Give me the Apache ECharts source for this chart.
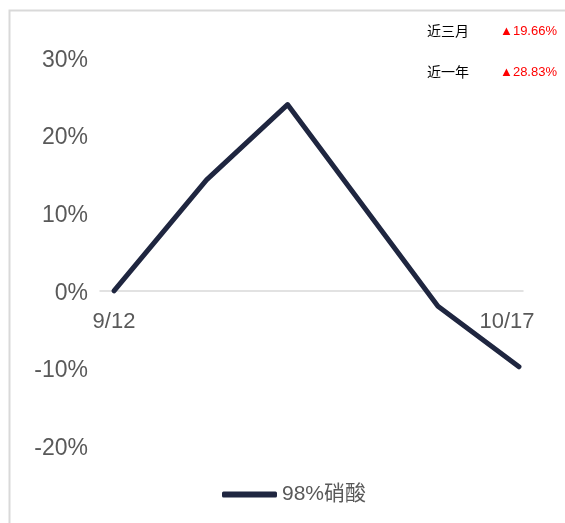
<!DOCTYPE html>
<html><head><meta charset="utf-8">
<script src="https://cdn.jsdelivr.net/npm/echarts@6/dist/echarts.min.js"></script>
<style>html,body{margin:0;padding:0;background:#fff}#c{width:565px;height:523px}</style>
</head><body><div id="c"></div>
<script>
var dates = ['2022-09-12', '2022-09-20', '2022-09-27', '2022-10-10', '2022-10-17'];
var values = [0, 14.3, 24.0, -2.0, -9.8];
var seriesName = '98%硝酸';
var yTicks = [-20, -10, 0, 10, 20, 30];
var xLabelDates = ['2022-09-12', '2022-10-17'];
var statLabels = ['近三月', '近一年'];
var statValues = ['▲19.66%', '▲28.83%'];

var DAY = 86400000;
function ts(s){ var p = s.split('-'); return Date.UTC(+p[0], +p[1]-1, +p[2]); }
var t0 = ts(dates[0]);
function dayOf(s){ return Math.round((ts(s) - t0) / DAY); }
function labelOf(d){ var dt = new Date(t0 + d * DAY); return (dt.getUTCMonth()+1) + '/' + dt.getUTCDate(); }
var FONT = '"Liberation Sans", "Noto Sans CJK SC", sans-serif';
var GRID_TOP = 58, GRID_BOTTOM = 77, H = 523;
var yMin = yTicks[0], yMax = yTicks[yTicks.length-1];
var plotH = H - GRID_TOP - GRID_BOTTOM;
var zeroOffset = -plotH * (0 - yMin) / (yMax - yMin);
var lastDay = dayOf(xLabelDates[xLabelDates.length-1]);
var chart = echarts.init(document.getElementById('c'));
chart.setOption({
  animation: false,
  grid: {left: 100, right: 42, top: GRID_TOP, bottom: GRID_BOTTOM},
  xAxis: {
    type: 'value',
    min: dayOf(dates[0]) - 1.21,
    max: dayOf(dates[dates.length-1]) + 0.35,
    offset: zeroOffset,
    axisLine: {onZero: false, lineStyle: {color: '#d9d9d9', width: 1.5}},
    axisTick: {show: false},
    splitLine: {show: false},
    axisLabel: {
      customValues: xLabelDates.map(dayOf),
      margin: 20,
      fontSize: 22, color: '#595959', fontFamily: FONT,
      formatter: function(v){ return v === lastDay ? '{e|' + labelOf(v) + '}' : labelOf(v); },
      rich: {e: {fontSize: 22, color: '#595959', fontFamily: FONT, padding: [0, 24, 0, 0]}}
    }
  },
  yAxis: {
    type: 'value', min: yMin, max: yMax, interval: 10,
    axisLine: {show: false}, axisTick: {show: false}, splitLine: {show: false},
    axisLabel: {formatter: '{v|{value}%}', margin: 12,
      rich: {v: {fontSize: 23, color: '#595959', fontFamily: FONT, padding: [5, 0, 0, 0]}}}
  },
  legend: {
    left: 217, top: 479, icon: 'roundRect', itemWidth: 55, itemHeight: 6, itemGap: 10,
    textStyle: {fontSize: 21, color: '#595959', fontFamily: FONT},
    data: [seriesName]
  },
  series: [{
    name: seriesName, type: 'line', symbol: 'none',
    data: dates.map(function(d, i){ return [dayOf(d), values[i]]; }),
    lineStyle: {color: '#1f2640', width: 5, cap: 'round', join: 'round'},
    itemStyle: {color: '#1f2640'}
  }],
  graphic: [
    {type: 'rect', left: 7, top: 8, silent: true, shape: {width: 620, height: 620},
     style: {fill: 'none', stroke: '#d9d9d9', lineWidth: 2}},
    {type: 'text', left: 427, top: 25, style: {text: statLabels[0], fontSize: 14, fill: '#000', fontFamily: FONT}},
    {type: 'text', right: 8, top: 25, style: {text: statValues[0], fontSize: 13, fill: '#ff0000', fontFamily: FONT}},
    {type: 'text', left: 427, top: 66, style: {text: statLabels[1], fontSize: 14, fill: '#000', fontFamily: FONT}},
    {type: 'text', right: 8, top: 66, style: {text: statValues[1], fontSize: 13, fill: '#ff0000', fontFamily: FONT}}
  ]
});
</script></body></html>
